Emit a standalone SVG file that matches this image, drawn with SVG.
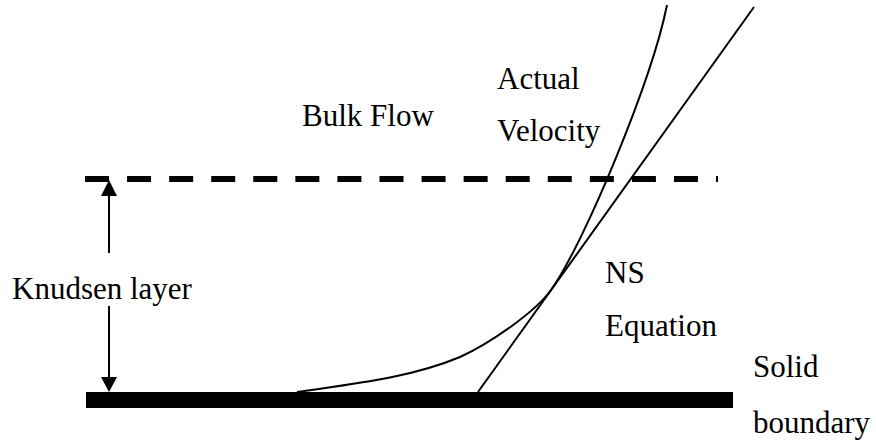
<svg xmlns="http://www.w3.org/2000/svg" width="876" height="441" viewBox="0 0 876 441">
<style>
.t{font-family:'Liberation Serif','Times New Roman',serif;font-size:31px;fill:#000}
.ln{fill:none;stroke:#000;stroke-width:2}
.dash{fill:none;stroke:#000;stroke-width:6;stroke-dasharray:24 18.07}
</style>
<rect width="876" height="441" fill="#fff"/>
<g id="wall">
<rect x="86" y="392" width="647" height="16" fill="#000"/>
<text class="t" x="753" y="377">Solid</text>
<text class="t" x="753" y="433">boundary</text>
</g>
<g id="knudsen-edge">
<line class="dash" x1="85" y1="179" x2="718" y2="179"/>
</g>
<g id="bulk"><text class="t" x="302" y="126">Bulk Flow</text></g>
<g id="actual-label"><text class="t" x="497" y="89">Actual</text><text class="t" x="497" y="141">Velocity</text></g>
<g id="ns-label"><text class="t" x="605" y="283">NS</text><text class="t" x="605" y="336">Equation</text></g>
<g id="knudsen-label"><text class="t" x="12" y="299">Knudsen layer</text></g>
<g id="connectors">
<path class="ln" d="M297,392 C352,384 410,378 460,357 C490,343.5 535.2,312 551,290 C584,244 652,80 667,5"/>
<line class="ln" x1="478" y1="392" x2="754" y2="7"/>
<path d="M101,196 L109,180 L117,196 Z" fill="#000"/>
<line class="ln" x1="109" y1="195" x2="109" y2="253"/>
<line class="ln" x1="109" y1="306" x2="109" y2="379"/>
<path d="M101,377 L109,392 L117,377 Z" fill="#000"/>
</g>
</svg>
